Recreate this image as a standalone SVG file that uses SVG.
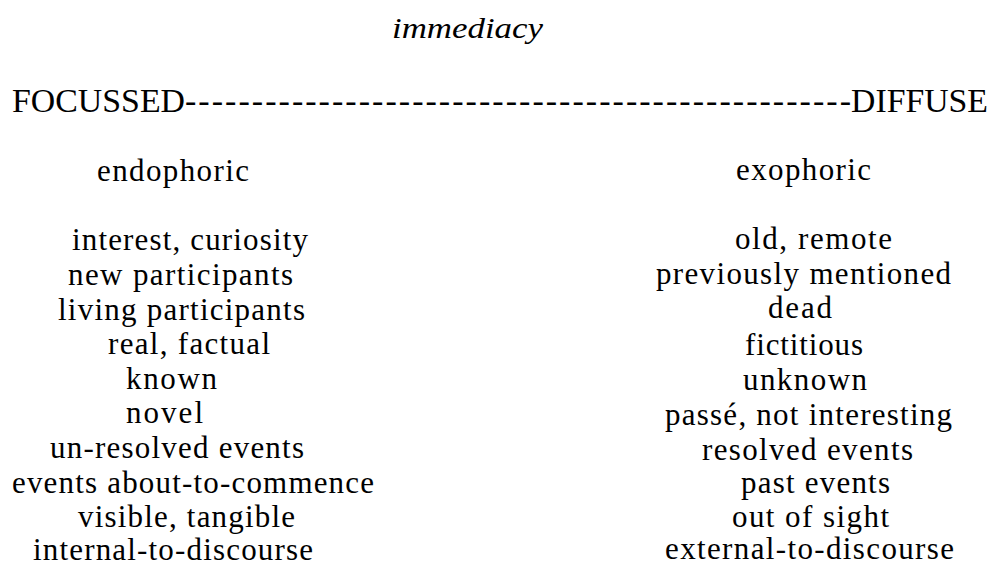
<svg xmlns="http://www.w3.org/2000/svg" width="993" height="567" viewBox="0 0 993 567">
  <style>
    text { font-family: "Liberation Serif", "Times New Roman", serif; fill: #000; }
    .title { font-size: 30px; font-style: italic; }
    .scale { font-size: 34px; }
    .item { font-size: 31px; }
  </style>
  <rect width="993" height="567" fill="#fff"/>

  <!-- heading -->
  <g id="heading">
    <text class="title" x="392" y="38" textLength="151" lengthAdjust="spacingAndGlyphs">immediacy</text>
  </g>

  <!-- scale running from one pole to the other -->
  <g id="scale">
    <text class="scale" y="112">
      <tspan x="12" textLength="173" lengthAdjust="spacingAndGlyphs">FOCUSSED</tspan>
      <tspan x="185" textLength="666" lengthAdjust="spacing">--------------------------------------------------</tspan>
      <tspan x="851" textLength="137" lengthAdjust="spacingAndGlyphs">DIFFUSE</tspan>
    </text>
  </g>

  <!-- focussed pole -->
  <g id="endophoric">
    <text class="item" x="97" y="181" textLength="152">endophoric</text>
    <text class="item" x="72" y="250" textLength="236">interest, curiosity</text>
    <text class="item" x="68" y="285" textLength="225">new participants</text>
    <text class="item" x="58" y="320" textLength="247">living participants</text>
    <text class="item" x="108" y="354" textLength="162">real, factual</text>
    <text class="item" x="126" y="389" textLength="91">known</text>
    <text class="item" x="126" y="423" textLength="77">novel</text>
    <text class="item" x="50" y="458" textLength="254">un-resolved events</text>
    <text class="item" x="12" y="493" textLength="362">events about-to-commence</text>
    <text class="item" x="78" y="527" textLength="217">visible, tangible</text>
    <text class="item" x="33" y="560" textLength="280">internal-to-discourse</text>
  </g>

  <!-- diffuse pole -->
  <g id="exophoric">
    <text class="item" x="736" y="180" textLength="135">exophoric</text>
    <text class="item" x="735" y="249" textLength="157">old, remote</text>
    <text class="item" x="656" y="284" textLength="295">previously mentioned</text>
    <text class="item" x="768" y="318" textLength="64">dead</text>
    <text class="item" x="745" y="355" textLength="118">fictitious</text>
    <text class="item" x="743" y="390" textLength="124">unknown</text>
    <text class="item" x="665" y="425" textLength="287">passé, not interesting</text>
    <text class="item" x="702" y="460" textLength="211">resolved events</text>
    <text class="item" x="741" y="493" textLength="149">past events</text>
    <text class="item" x="732" y="527" textLength="157">out of sight</text>
    <text class="item" x="665" y="559" textLength="289">external-to-discourse</text>
  </g>
</svg>
